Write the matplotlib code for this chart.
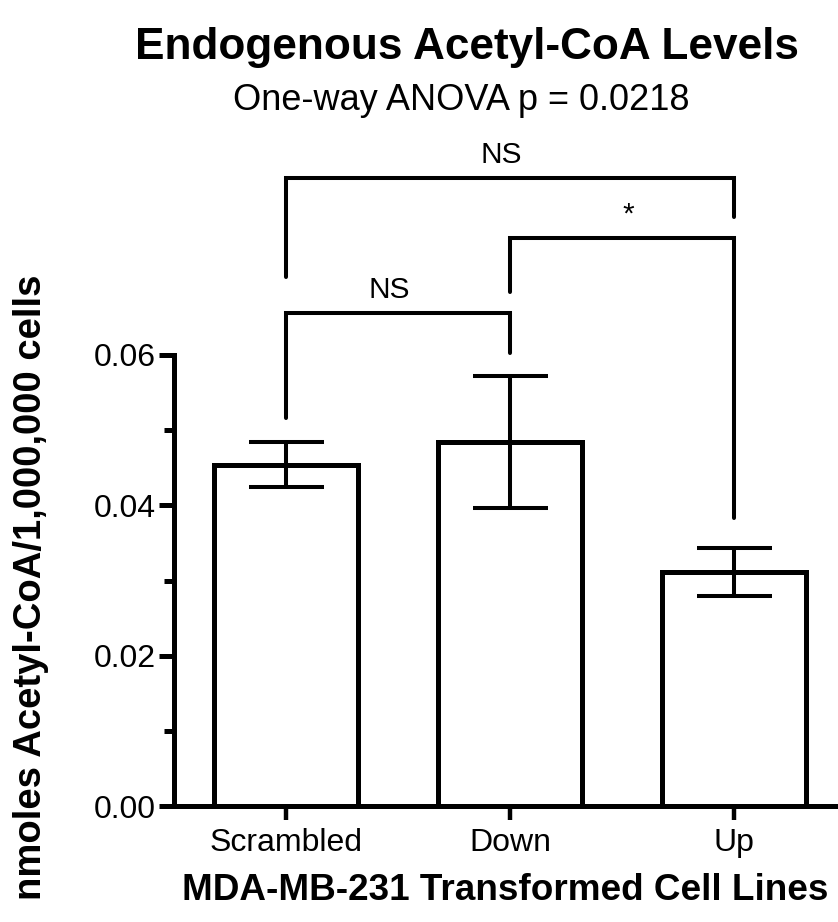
import matplotlib
matplotlib.use('Agg')
import matplotlib.pyplot as plt
from matplotlib.ticker import MultipleLocator, FormatStrFormatter

plt.rcParams['font.family'] = ['Liberation Sans', 'DejaVu Sans']

# data
groups = ['Scrambled', 'Down', 'Up']
means = [0.0454, 0.0484, 0.0311]
sems = [0.0030, 0.0088, 0.0032]

# pairwise comparisons: (left group, right group, label)
comparisons = [(0, 1, 'NS'), (1, 2, '*'), (0, 2, 'NS')]
# bracket heights: (bar level, left drop end, right drop end)
bracket_y = [(0.0656, 0.0516, 0.0603),
             (0.0756, 0.0684, 0.0383),
             (0.0835, 0.0704, 0.0784)]

W, H = 838, 922
fig = plt.figure(figsize=(W / 100, H / 100), dpi=100)
# axes spans x data -0.5..2.5, right part runs off the figure edge
ax = fig.add_axes([174 / W, (H - 806) / H, (846 - 174) / W, (806 - 355) / H])

x = list(range(len(groups)))
ax.bar(x, means, width=0.645, color='white', edgecolor='black', linewidth=3.6, zorder=2)
ax.errorbar(x, means, yerr=sems, fmt='none', ecolor='black', elinewidth=2.9,
            capsize=27, capthick=2.9, zorder=3)

ax.set_xlim(-0.5, 2.5)
ax.set_ylim(0, 0.06)

for side in ['top', 'right']:
    ax.spines[side].set_visible(False)
for side in ['left', 'bottom']:
    ax.spines[side].set_linewidth(3.6)
    ax.spines[side].set_capstyle('projecting')

ax.yaxis.set_major_locator(MultipleLocator(0.02))
ax.yaxis.set_minor_locator(MultipleLocator(0.01))
ax.yaxis.set_major_formatter(FormatStrFormatter('%.2f'))
ax.tick_params(axis='y', which='major', length=11, width=3.6, labelsize=23, pad=2)
ax.tick_params(axis='y', which='minor', length=7, width=3.6)
ax.set_xticks(x)
ax.set_xticklabels(groups)
ax.tick_params(axis='x', which='major', length=10, width=3.2, labelsize=23, pad=6)

# significance brackets
for (i, j, lab), (yb, yl, yr) in zip(comparisons, bracket_y):
    ax.plot([i, i, j, j], [yl, yb, yb, yr], color='black', lw=2.9,
            clip_on=False, solid_capstyle='round', solid_joinstyle='miter', zorder=4)
    nudge = 0.03 if lab == '*' else -0.04
    ax.text((i + j) / 2 + nudge, yb + 0.0012, lab, ha='center', va='bottom', fontsize=21.5)

fig.text(467 / W, 1 - 48 / H, 'Endogenous Acetyl-CoA Levels', ha='center', va='center',
         fontsize=31.8, fontweight='bold')
fig.text(461 / W, 1 - 100 / H, 'One-way ANOVA p = 0.0218', ha='center', va='center',
         fontsize=26)
fig.text(505 / W, 1 - 890 / H, 'MDA-MB-231 Transformed Cell Lines', ha='center', va='center',
         fontsize=26.6, fontweight='bold')
fig.text(31 / W, 1 - 587 / H, 'nmoles Acetyl-CoA/1,000,000 cells', ha='center', va='center',
         rotation=90, fontsize=27.5, fontweight='bold')

fig.savefig('out.png', dpi=100)
